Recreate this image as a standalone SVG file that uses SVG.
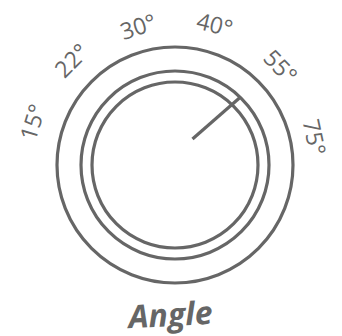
<svg xmlns="http://www.w3.org/2000/svg" width="342" height="336" viewBox="0 0 342 336">
<style>
.ring{fill:none;stroke:#666;stroke-width:3.2}
.lbl{font-family:"Open Sans","DejaVu Sans",sans-serif;font-size:23px;font-weight:500;fill:#666;text-anchor:middle;dominant-baseline:central}
.title{font-family:"Open Sans","DejaVu Sans",sans-serif;font-size:32px;font-weight:bold;font-style:italic;fill:#666;text-anchor:middle}
</style>
<rect width="342" height="336" fill="#fff"/>
<g id="dial">
<circle class="ring" cx="175" cy="165" r="118"/>
<circle class="ring" cx="175" cy="165" r="94"/>
<circle class="ring" cx="175" cy="165" r="83"/>
</g>
<g id="connectors">
<line x1="192.5" y1="139" x2="240" y2="97.5" stroke="#666" stroke-width="3.2"/>
</g>
<g id="labels">
<text class="lbl" transform="translate(32,122) rotate(-73)">15°</text>
<text class="lbl" transform="translate(71,60) rotate(-45)">22°</text>
<text class="lbl" transform="translate(138,26) rotate(-18)">30°</text>
<text class="lbl" transform="translate(215,24) rotate(14)">40°</text>
<text class="lbl" transform="translate(281,66) rotate(46)">55°</text>
<text class="lbl" transform="translate(315,137) rotate(78)">75°</text>
</g>
<g id="title">
<text class="title" transform="translate(171,326) rotate(-3)">Angle</text>
</g>
</svg>
